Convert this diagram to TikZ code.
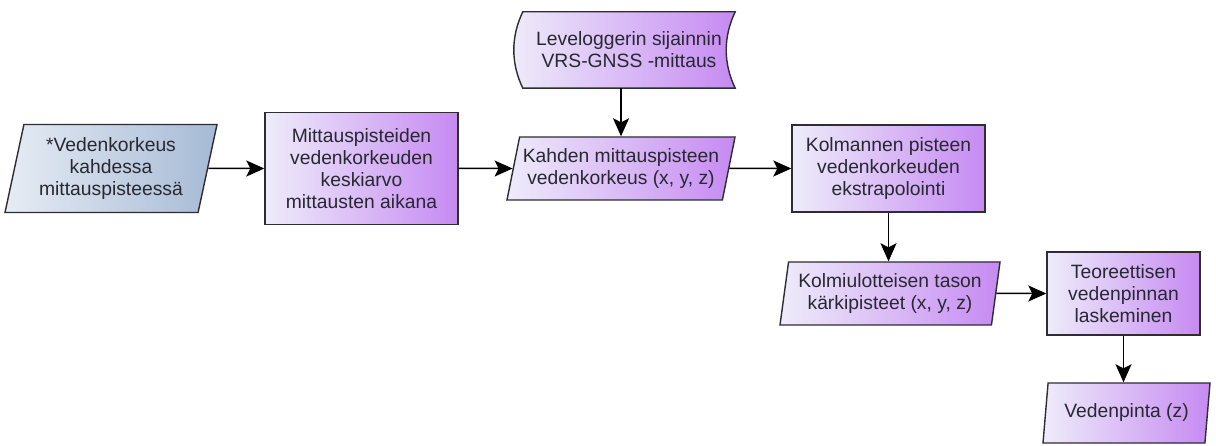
\documentclass[tikz,border=0pt]{standalone}
\usepackage{fontspec}
\setmainfont{Liberation Sans}
\usetikzlibrary{shapes.geometric,arrows.meta,backgrounds}
\definecolor{txt}{RGB}{40,40,50}
\definecolor{edge}{RGB}{45,45,50}
\definecolor{plL}{RGB}{238,236,250}
\definecolor{plR}{RGB}{198,138,242}
\definecolor{blL}{RGB}{230,236,244}
\definecolor{blR}{RGB}{166,186,213}
\tikzset{
  base/.style={draw=edge, line width=1.4pt, text=txt, align=center, inner sep=2pt},
  purp/.style={left color=plL, right color=plR},
  blu/.style={left color=blL, right color=blR},
  box/.style={base, purp, rectangle},
  para/.style={base, trapezium, trapezium left angle=#1, trapezium right angle=180-#1, trapezium stretches body},
  conn/.style={draw=black, line width=1.5pt, -{Stealth[length=18pt,width=16pt,inset=4pt]}},
}
\begin{document}
\begin{tikzpicture}[x=1pt,y=-1pt,font=\fontsize{19.3}{22}\selectfont]
\useasboundingbox (0,0) rectangle (1216,446);

\node[para=74, blu, minimum width=212pt, minimum height=88pt] (n1) at (111,168.5)
  {*Vedenkorkeus\\kahdessa\\mittauspisteessä};
\node[box, minimum width=193pt, minimum height=112pt] (n2) at (361.5,168.5)
  {Mittauspisteiden\\vedenkorkeuden\\keskiarvo\\mittausten aikana};
\node[text=txt, align=center, minimum width=212pt, minimum height=76pt, inner sep=0pt] (lev) at (629,50)
  {Leveloggerin sijainnin\\VRS-GNSS -mittaus};
\node[para=74, purp, minimum width=228pt, minimum height=63pt] (n4) at (621,168.5)
  {Kahden mittauspisteen\\vedenkorkeus (x, y, z)};
\node[box, minimum width=193pt, minimum height=87pt] (n5) at (888.5,168.5)
  {Kolmannen pisteen\\vedenkorkeuden\\ekstrapolointi};
\node[para=79, purp, minimum width=220pt, minimum height=63pt] (n6) at (890,293.5)
  {Kolmiulotteisen tason\\kärkipisteet (x, y, z)};
\node[box, minimum width=153pt, minimum height=83pt] (n7) at (1123.5,293.5)
  {Teoreettisen\\vedenpinnan\\laskeminen};
\node[para=77, purp, minimum width=167pt, minimum height=60pt] (n8) at (1126.5,413)
  {Vedenpinta (z)};

\begin{pgfonlayer}{background}
\fill[white] (0,0) rectangle (1216,446);
\path[draw=edge, line width=1.4pt, purp]
  (lev.north west) -- (lev.north east)
  .. controls ([xshift=-12pt,yshift=-25pt]lev.north east) and ([xshift=-12pt,yshift=25pt]lev.south east) .. (lev.south east)
  -- (lev.south west)
  .. controls ([xshift=-12pt,yshift=25pt]lev.south west) and ([xshift=-12pt,yshift=-25pt]lev.north west) .. cycle;
\end{pgfonlayer}

\draw[conn] (n1) -- (n2);
\draw[conn] (n2) -- (n4);
\draw[conn] (n4.north |- lev.south) -- (n4.north);
\draw[conn] (n4) -- (n5);
\draw[conn] (n5.south) -- (n5.south |- n6.north);
\draw[conn] (n6) -- (n7);
\draw[conn] (n7.south) -- (n7.south |- n8.north);
\end{tikzpicture}
\end{document}
